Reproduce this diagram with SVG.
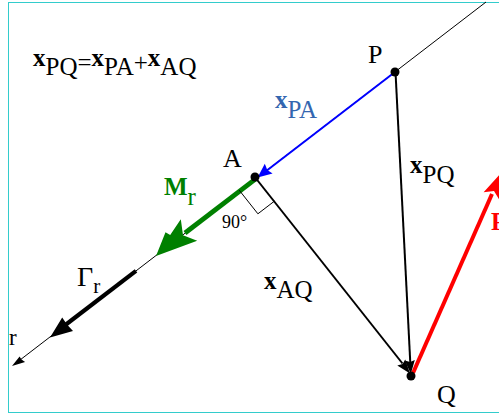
<svg xmlns="http://www.w3.org/2000/svg" width="499" height="414" viewBox="0 0 499 414">
<style>
text{font-family:"Liberation Serif","Times New Roman",serif;font-size:25px}
.b{font-weight:bold}
.ln{fill:none;stroke-linecap:butt}
</style>
<rect x="8.5" y="2.5" width="600" height="410" fill="#ffffff" stroke="#33cccc" stroke-width="1"/>
<g id="connectors">
  <line class="ln" x1="486" y1="2" x2="20" y2="360" stroke="#000" stroke-width="1"/>
  <polygon points="12,366 19.6,356.5 21.5,359.5 25.1,362.0" fill="#000"/>
  <line class="ln" x1="136" y1="270.8" x2="64" y2="326" stroke="#000" stroke-width="4.2"/>
  <polygon points="50,337.5 62.2,317.6 67,324.5 73,331" fill="#000"/>
  <line class="ln" x1="395" y1="72" x2="266.5" y2="170.7" stroke="#0000ff" stroke-width="2"/>
  <polygon points="257.6,177.4 264.8,163.8 267.3,170.1 272.6,173.6" fill="#0000ff"/>
  <line class="ln" x1="256" y1="178.6" x2="185" y2="233" stroke="#008000" stroke-width="4.8"/>
  <polygon points="156,256 165.5,232.3 170.2,235 180.8,219.3 183,235.3 197.2,240.7" fill="#008000"/>
  <line class="ln" x1="395.5" y1="72" x2="410.3" y2="363" stroke="#000" stroke-width="2"/>
  <polygon points="410.8,374 404.8,360.4 410.2,362 414.8,359.9" fill="#000"/>
  <line class="ln" x1="256" y1="178.5" x2="402.5" y2="363.5" stroke="#000" stroke-width="2"/>
  <polygon points="410,373.5 397.3,365.6 402.6,364.0 405.2,359.4" fill="#000"/>
  <line class="ln" x1="413" y1="373" x2="492" y2="194" stroke="#ff0000" stroke-width="4"/>
  <polygon points="502,172 499.1,199.3 494,191 483.6,192.2" fill="#ff0000"/>
  <polyline class="ln" points="239.3,190.3 257.9,213.8 274.6,201" stroke="#000" stroke-width="1"/>
</g>
<g id="node-P">
  <circle cx="395" cy="72" r="4.5" fill="#000"/>
  <text x="368" y="63" style="font-size:26px">P</text>
</g>
<g id="node-A">
  <circle cx="255" cy="177" r="4.5" fill="#000"/>
  <text x="223" y="167" style="font-size:26px">A</text>
</g>
<g id="node-Q">
  <circle cx="411" cy="376" r="4.5" fill="#000"/>
  <text x="437" y="403" style="font-size:26px">Q</text>
</g>
<g id="labels">
  <text x="33" y="66"><tspan class="b">x</tspan><tspan dy="9">PQ</tspan><tspan dy="-4">=</tspan><tspan class="b" dy="-5">x</tspan><tspan dy="9">PA</tspan><tspan dy="-4">+</tspan><tspan class="b" dy="-5">x</tspan><tspan dy="9">AQ</tspan></text>
  <text x="275" y="108" fill="#3366b0"><tspan class="b">x</tspan><tspan dy="10">PA</tspan></text>
  <text x="410" y="173"><tspan class="b">x</tspan><tspan dy="10">PQ</tspan></text>
  <text x="264" y="289"><tspan class="b">x</tspan><tspan dy="9">AQ</tspan></text>
  <text x="164" y="195" fill="#008000"><tspan class="b">M</tspan><tspan dy="10">r</tspan></text>
  <text x="222" y="228" style="font-size:18px">90°</text>
  <text x="77" y="286" style="font-size:28px">Γ<tspan dy="7" style="font-size:21px">r</tspan></text>
  <text x="9" y="345" style="font-size:23px">r</text>
  <text x="491" y="230" class="b" fill="#ff0000">F</text>
</g>
</svg>
